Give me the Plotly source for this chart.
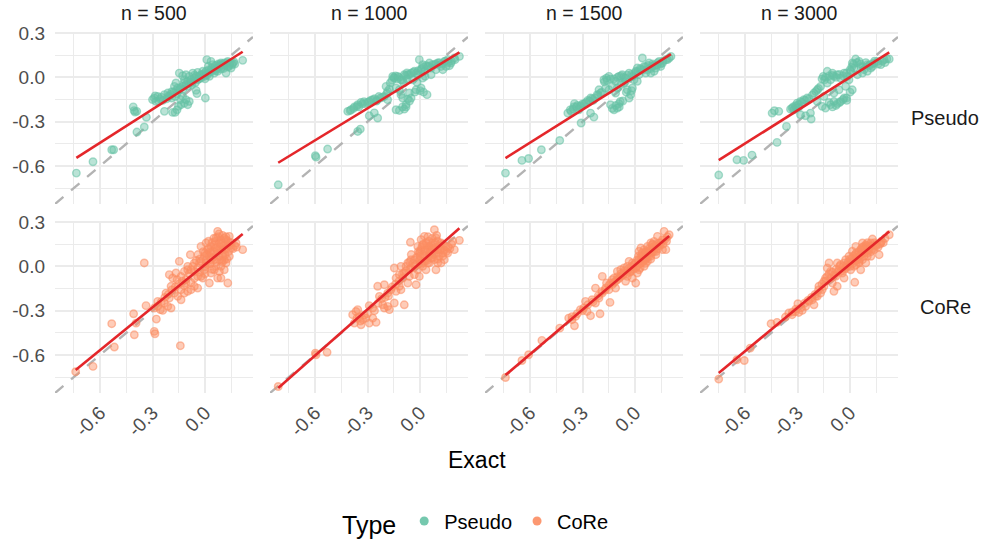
import numpy as np
import plotly.graph_objects as go

# ---- data: (Exact, estimate) pairs per method and sample size ----
sample_sizes = [500, 1000, 1500, 3000]
methods = ["Pseudo", "CoRe"]
x_tick_vals = [-0.6, -0.3, 0.0]
x_tick_text = ["-0.6", "-0.3", "0.0"]
y_tick_vals = [-0.6, -0.3, 0.0, 0.3]
y_tick_text = ["-0.6", "-0.3", "0.0", "0.3"]

pseudo_500 = [
    (-0.735, -0.648), (-0.64, -0.571), (-0.533, -0.49), (-0.522, -0.49), (-0.389, -0.37),
    (-0.347, -0.336), (-0.41, -0.20), (-0.405, -0.225), (-0.40, -0.235), (-0.39, -0.23),
    (-0.335, -0.27), (-0.29, -0.14), (-0.28, -0.163), (-0.27, -0.129), (-0.255, -0.147),
    (-0.242, -0.156), (-0.232, -0.117), (-0.213, -0.106), (-0.204, -0.129), (-0.19, -0.097),
    (-0.232, -0.23), (-0.185, -0.237), (-0.171, -0.237), (-0.152, -0.196), (-0.137, -0.185),
    (-0.118, -0.174), (-0.109, -0.151), (-0.09, -0.163), (-0.099, -0.185), (-0.128, -0.129),
    (-0.147, -0.084), (-0.156, -0.072), (-0.128, -0.061), (-0.109, -0.05), (-0.08, -0.038),
    (-0.051, -0.088), (-0.046, -0.11), (0.002, -0.14), (-0.147, 0.029), (-0.128, 0.011),
    (-0.109, 0.018), (-0.09, 0.007), (-0.07, 0.029), (-0.051, 0.007), (-0.042, 0.034),
    (-0.023, 0.018), (-0.013, 0.041), (-0.004, 0.007), (0.01, 0.12), (0.034, 0.108),
    (0.019, 0.075), (0.034, 0.052), (0.044, 0.086), (0.053, 0.029), (0.063, 0.063),
    (0.072, 0.041), (0.082, 0.086), (0.091, 0.056), (0.101, 0.074), (0.11, 0.097),
    (0.12, 0.029), (0.13, 0.07), (0.139, 0.086), (0.149, 0.063), (0.158, 0.097),
    (0.13, 0.108), (0.091, 0.097), (0.215, 0.115), (0.015, 0.029), (0.025, 0.007),
    (0.006, 0.041), (-0.023, -0.005), (-0.042, -0.016), (-0.061, -0.005), (-0.08, -0.016),
    (-0.099, -0.027), (-0.118, -0.016), (-0.166, -0.038), (-0.175, -0.061),
    (-0.30, -0.15), (-0.285, -0.125), (-0.265, -0.16), (-0.25, -0.135), (-0.22, -0.145),
    (-0.21, -0.125), (-0.195, -0.115), (-0.18, -0.10), (-0.165, -0.09), (-0.16, -0.11),
    (-0.14, -0.07), (-0.125, -0.08), (-0.12, -0.04), (-0.10, -0.06), (-0.085, -0.03),
    (-0.075, -0.05), (-0.065, -0.02), (-0.055, -0.035), (-0.035, -0.01), (-0.03, 0.01),
    (-0.015, 0.02), (0.0, 0.03), (0.012, 0.015), (0.02, 0.05), (0.03, 0.035),
    (0.04, 0.065), (0.05, 0.05), (0.06, 0.08), (0.07, 0.06), (0.08, 0.07),
    (0.09, 0.08), (0.10, 0.09), (0.105, 0.06), (0.115, 0.085), (0.125, 0.10),
    (0.135, 0.075), (0.145, 0.10), (0.155, 0.085), (0.165, 0.105), (0.17, 0.09),
    (0.06, 0.045), (0.075, 0.09), (-0.06, 0.015), (0.0, -0.01), (-0.19, -0.14),
    (-0.17, -0.13), (-0.14, -0.15), (-0.16, -0.22),
]

pseudo_1000 = [
    (-0.81, -0.727), (-0.598, -0.53), (-0.594, -0.54), (-0.528, -0.485), (-0.356, -0.366),
    (-0.341, -0.35), (-0.29, -0.26), (-0.242, -0.275), (-0.413, -0.23), (-0.394, -0.219),
    (-0.375, -0.20), (-0.356, -0.185), (-0.337, -0.169), (-0.314, -0.178), (-0.29, -0.163),
    (-0.27, -0.151), (-0.246, -0.156), (-0.227, -0.14), (-0.204, -0.129), (-0.185, -0.095),
    (-0.175, -0.079), (-0.156, 0.007), (-0.147, -0.005), (-0.128, 0.007), (-0.109, -0.016),
    (-0.093, -0.038), (-0.137, -0.072), (-0.118, -0.084), (-0.109, -0.117), (-0.099, -0.14),
    (-0.137, -0.219), (-0.118, -0.224), (-0.09, -0.215), (-0.08, -0.185), (-0.07, -0.147),
    (-0.051, -0.14), (-0.061, -0.106), (-0.023, -0.084), (0.006, -0.072), (0.04, -0.117),
    (-0.07, 0.018), (-0.051, 0.029), (-0.032, 0.041), (-0.013, 0.018), (0.006, 0.052),
    (-0.004, 0.12), (0.015, 0.086), (0.025, 0.041), (0.044, 0.074), (0.063, 0.063),
    (0.082, 0.086), (0.101, 0.097), (0.12, 0.074), (0.139, 0.108), (0.158, 0.12),
    (0.177, 0.097), (0.196, 0.131), (0.225, 0.142), (0.053, 0.097), (0.091, 0.052),
    (0.13, 0.052), (0.149, 0.074), (0.168, 0.079), (-0.09, 0.018), (-0.074, -0.011),
    (-0.042, -0.016), (-0.017, -0.034), (0.015, -0.005), (0.029, 0.007), (0.063, 0.018),
    (-0.17, -0.038), (-0.194, -0.061), (-0.185, -0.151), (-0.261, -0.24),
    (-0.40, -0.225), (-0.38, -0.21), (-0.36, -0.195), (-0.35, -0.20), (-0.33, -0.18),
    (-0.32, -0.165), (-0.30, -0.17), (-0.28, -0.155), (-0.26, -0.145), (-0.25, -0.16),
    (-0.235, -0.13), (-0.215, -0.135), (-0.19, -0.11), (-0.16, -0.02), (-0.15, 0.0),
    (-0.14, 0.01), (-0.13, -0.01), (-0.12, 0.0), (-0.10, -0.02), (-0.085, 0.01),
    (-0.075, 0.03), (-0.06, 0.02), (-0.04, 0.035), (-0.02, 0.03), (-0.01, 0.045),
    (0.01, 0.06), (0.02, 0.07), (0.035, 0.08), (0.05, 0.075), (0.07, 0.085),
    (0.09, 0.09), (0.11, 0.10), (0.125, 0.09), (0.145, 0.11), (0.16, 0.10),
    (0.18, 0.11), (0.20, 0.12), (-0.10, -0.20), (-0.08, -0.20), (-0.06, -0.16),
    (-0.03, -0.10), (0.0, -0.09), (0.02, -0.10),
]

pseudo_1500 = [
    (-0.74, -0.648), (-0.646, -0.562), (-0.608, -0.549), (-0.535, -0.49), (-0.43, -0.427),
    (-0.308, -0.309), (-0.384, -0.242), (-0.365, -0.23), (-0.354, -0.214), (-0.346, -0.178),
    (-0.335, -0.201), (-0.321, -0.219), (-0.308, -0.192), (-0.289, -0.178), (-0.27, -0.156),
    (-0.254, -0.14), (-0.239, -0.156), (-0.254, -0.242), (-0.235, -0.269), (-0.197, -0.106),
    (-0.178, -0.016), (-0.163, -0.005), (-0.149, 0.007), (-0.168, -0.072), (-0.149, -0.084),
    (-0.13, -0.061), (-0.14, -0.185), (-0.12, -0.219), (-0.101, -0.208), (-0.092, -0.178),
    (-0.084, -0.163), (-0.111, -0.106), (-0.101, -0.072), (-0.082, -0.05), (-0.063, -0.038),
    (-0.044, -0.084), (-0.034, -0.14), (-0.025, -0.117), (-0.015, -0.072), (-0.092, 0.007),
    (-0.073, 0.018), (-0.054, -0.005), (-0.034, 0.029), (-0.015, 0.007), (0.004, 0.041),
    (0.023, 0.018), (0.013, 0.063), (0.042, 0.131), (0.052, 0.074), (0.071, 0.052),
    (0.08, 0.097), (0.099, 0.074), (0.109, 0.041), (0.128, 0.086), (0.138, 0.108),
    (0.157, 0.097), (0.176, 0.12), (0.195, 0.131), (0.205, 0.142), (0.033, 0.052),
    (0.061, 0.029), (0.09, 0.029), (0.119, 0.063), (0.147, 0.074), (-0.006, -0.016),
    (0.013, -0.027), (-0.054, -0.027), (-0.111, -0.027), (-0.216, -0.117), (-0.206, -0.084),
    (-0.37, -0.22), (-0.35, -0.20), (-0.33, -0.19), (-0.315, -0.20), (-0.30, -0.18),
    (-0.28, -0.17), (-0.26, -0.16), (-0.245, -0.145), (-0.23, -0.14), (-0.21, -0.12),
    (-0.19, -0.10), (-0.175, -0.03), (-0.16, -0.02), (-0.14, -0.01), (-0.12, -0.01),
    (-0.10, 0.0), (-0.08, 0.01), (-0.065, 0.0), (-0.045, 0.015), (-0.02, 0.02),
    (0.0, 0.03), (0.015, 0.04), (0.03, 0.06), (0.045, 0.05), (0.06, 0.07),
    (0.075, 0.08), (0.09, 0.06), (0.10, 0.09), (0.115, 0.08), (0.13, 0.10),
    (0.145, 0.09), (0.16, 0.11), (0.185, 0.12), (-0.11, -0.19), (-0.09, -0.20),
    (-0.07, -0.16), (-0.05, -0.10), (-0.02, -0.09), (-0.13, -0.21),
]

pseudo_3000 = [
    (-0.75, -0.661), (-0.646, -0.558), (-0.608, -0.562), (-0.56, -0.526), (-0.417, -0.44),
    (-0.363, -0.332), (-0.445, -0.242), (-0.432, -0.226), (-0.407, -0.23), (-0.331, -0.208),
    (-0.312, -0.192), (-0.302, -0.174), (-0.283, -0.163), (-0.264, -0.151), (-0.245, -0.14),
    (-0.321, -0.219), (-0.293, -0.201), (-0.283, -0.253), (-0.254, -0.26), (-0.222, -0.282),
    (-0.226, -0.242), (-0.206, -0.106), (-0.187, -0.084), (-0.168, -0.061), (-0.153, 0.007),
    (-0.145, -0.016), (-0.13, -0.038), (-0.159, -0.196), (-0.14, -0.208), (-0.111, -0.185),
    (-0.092, -0.163), (-0.073, -0.178), (-0.054, -0.163), (-0.034, -0.14), (-0.019, -0.156),
    (-0.092, -0.106), (-0.063, -0.084), (-0.025, -0.061), (0.013, -0.084), (-0.111, -0.016),
    (-0.092, 0.007), (-0.073, 0.018), (-0.054, -0.005), (-0.034, 0.029), (-0.015, 0.007),
    (0.004, 0.041), (0.023, 0.063), (0.013, 0.097), (0.032, 0.124), (0.052, 0.108),
    (0.061, 0.074), (0.08, 0.052), (0.099, 0.086), (0.119, 0.063), (0.138, 0.097),
    (0.157, 0.108), (0.176, 0.086), (0.195, 0.12), (0.224, 0.124), (0.042, 0.018),
    (0.071, 0.029), (0.099, 0.041), (0.128, 0.074), (-0.13, 0.041), (-0.101, 0.029),
    (-0.006, -0.016), (-0.149, -0.129), (-0.187, -0.163),
    (-0.34, -0.215), (-0.325, -0.20), (-0.31, -0.205), (-0.295, -0.185), (-0.275, -0.17),
    (-0.255, -0.155), (-0.235, -0.145), (-0.215, -0.12), (-0.195, -0.095), (-0.18, -0.075),
    (-0.16, -0.01), (-0.14, 0.0), (-0.12, 0.01), (-0.10, 0.015), (-0.08, 0.0),
    (-0.06, 0.02), (-0.04, 0.01), (-0.02, 0.03), (0.0, 0.05), (0.01, 0.07),
    (0.02, 0.09), (0.04, 0.10), (0.06, 0.09), (0.075, 0.07), (0.09, 0.10),
    (0.11, 0.08), (0.125, 0.09), (0.14, 0.11), (0.16, 0.09), (0.185, 0.11),
    (0.20, 0.10), (0.21, 0.125), (-0.10, -0.20), (-0.08, -0.19), (-0.06, -0.17),
    (-0.04, -0.15), (-0.02, -0.14), (0.0, -0.10), (-0.12, -0.17),
]

core_500 = [
    (-0.739, -0.713), (-0.64, -0.677), (-0.533, -0.388), (-0.518, -0.546), (-0.408, -0.321),
    (-0.404, -0.463), (-0.394, -0.384), (-0.347, 0.023), (-0.337, -0.266), (-0.29, -0.44),
    (-0.286, -0.456), (-0.278, -0.357), (-0.141, -0.537), (-0.27, -0.237), (-0.255, -0.293),
    (-0.232, -0.248), (-0.213, -0.271), (-0.194, -0.282), (-0.204, -0.214), (-0.223, -0.181),
    (-0.194, -0.135), (-0.175, -0.181), (-0.156, -0.203), (-0.137, -0.226), (-0.137, -0.158),
    (-0.118, -0.181), (-0.099, -0.169), (-0.08, -0.158), (-0.061, -0.135), (-0.042, -0.147),
    (-0.204, -0.056), (-0.185, -0.079), (-0.166, -0.045), (-0.147, 0.034), (-0.137, -0.068),
    (-0.118, -0.034), (-0.099, 0.0), (-0.08, -0.023), (-0.084, 0.079), (-0.061, 0.023),
    (-0.042, -0.011), (-0.023, 0.034), (-0.023, -0.068), (-0.004, -0.023), (0.006, 0.045),
    (0.015, 0.011), (0.025, 0.068), (0.025, -0.113), (0.034, 0.135), (0.044, 0.102),
    (0.053, 0.045), (0.063, 0.0), (0.072, -0.079), (0.082, 0.158), (0.091, 0.113),
    (0.101, 0.068), (0.072, 0.237), (0.11, -0.023), (0.12, 0.023), (0.13, -0.113),
    (0.13, 0.147), (0.149, 0.124), (0.139, 0.068), (0.177, 0.158), (0.215, 0.113),
    (-0.023, 0.135), (0.006, 0.158), (0.015, 0.113), (0.034, 0.045), (0.053, 0.147),
    (0.063, 0.192), (0.082, 0.045), (0.091, 0.0), (0.101, 0.158), (0.11, 0.113),
    (0.12, 0.181), (0.11, 0.045), (-0.004, 0.068), (-0.032, 0.023), (-0.061, -0.034),
    (-0.013, -0.079), (0.034, -0.045), (0.053, -0.023), (0.082, -0.034), (0.091, -0.079),
    (0.006, 0.023), (0.034, 0.09), (0.063, 0.124), (0.139, 0.203), (-0.29, -0.282),
    (-0.242, -0.298), (-0.109, -0.113), (-0.042, -0.068), (-0.099, -0.023),
    (-0.03, 0.05), (-0.01, 0.10), (0.0, 0.0), (0.01, 0.08), (0.02, 0.12),
    (0.03, 0.02), (0.04, 0.16), (0.045, 0.06), (0.05, 0.10), (0.06, 0.17),
    (0.065, 0.03), (0.07, 0.11), (0.075, 0.20), (0.08, 0.07), (0.085, 0.13),
    (0.09, 0.18), (0.095, 0.04), (0.10, 0.10), (0.105, 0.14), (0.11, 0.19),
    (0.115, 0.08), (0.12, 0.12), (0.125, 0.05), (0.13, 0.17), (0.135, 0.10),
    (0.14, 0.14), (0.15, 0.16), (0.16, 0.12), (0.17, 0.14), (0.18, 0.13),
    (0.10, 0.21), (0.08, 0.22), (0.05, 0.19), (0.02, 0.17), (-0.04, 0.08),
    (-0.05, 0.04), (-0.07, 0.0), (-0.09, -0.05), (-0.11, -0.09), (-0.13, -0.10),
    (-0.15, -0.12), (-0.17, -0.14), (-0.19, -0.16), (-0.21, -0.19), (-0.23, -0.21),
    (-0.25, -0.24), (-0.27, -0.27), (-0.16, -0.09), (-0.12, -0.13), (-0.08, -0.11),
    (-0.06, -0.08), (-0.03, -0.04), (0.0, 0.09), (0.03, 0.10), (0.06, 0.13),
    (0.09, 0.15), (0.12, 0.20), (0.0, -0.05), (0.04, -0.02), (0.10, 0.03),
]

core_1000 = [
    (-0.81, -0.813), (-0.598, -0.587), (-0.594, -0.598), (-0.531, -0.582), (-0.385, -0.327),
    (-0.366, -0.305), (-0.356, -0.293), (-0.347, -0.343), (-0.328, -0.361), (-0.309, -0.35),
    (-0.29, -0.384), (-0.375, -0.384), (-0.337, -0.395), (-0.251, -0.379), (-0.27, -0.35),
    (-0.29, -0.266), (-0.27, -0.282), (-0.242, -0.135), (-0.232, -0.203), (-0.213, -0.26),
    (-0.204, -0.124), (-0.185, -0.181), (-0.166, -0.158), (-0.175, -0.293), (-0.147, -0.248),
    (-0.137, -0.169), (-0.118, -0.135), (-0.09, -0.26), (-0.109, -0.158), (-0.147, -0.011),
    (-0.137, -0.079), (-0.109, 0.0), (-0.09, -0.045), (-0.07, 0.023), (-0.061, -0.068),
    (-0.051, -0.011), (-0.055, 0.163), (-0.023, -0.124), (-0.032, 0.045), (-0.013, -0.023),
    (-0.004, 0.09), (0.006, 0.023), (0.015, 0.147), (0.025, 0.068), (0.034, -0.023),
    (0.044, 0.113), (0.053, 0.023), (0.063, 0.056), (0.072, 0.158), (0.082, 0.248),
    (0.091, 0.192), (0.101, 0.113), (0.11, 0.068), (0.12, 0.158), (0.13, 0.09),
    (0.149, 0.135), (0.187, 0.169), (0.196, 0.113), (0.225, 0.176), (0.025, 0.203),
    (0.006, 0.181), (-0.013, 0.135), (0.034, 0.158), (0.053, 0.135), (0.044, 0.023),
    (0.015, 0.0), (-0.004, -0.068), (-0.032, -0.056), (-0.051, 0.045), (-0.08, 0.0),
    (-0.099, -0.079), (-0.118, -0.056), (0.082, 0.045), (0.101, 0.023), (0.091, -0.023),
    (0.063, 0.113), (0.025, 0.102), (0.006, 0.113), (0.12, 0.023), (0.139, 0.045),
    (0.158, 0.09), (0.082, 0.113), (0.053, 0.09), (0.025, 0.034), (-0.004, 0.045),
    (-0.023, 0.011), (-0.07, -0.113), (-0.185, -0.271), (-0.204, -0.282),
    (-0.04, 0.02), (-0.02, 0.06), (0.0, 0.04), (0.0, 0.10), (0.01, 0.13),
    (0.02, 0.08), (0.03, 0.11), (0.035, 0.05), (0.04, 0.14), (0.05, 0.17),
    (0.055, 0.07), (0.06, 0.10), (0.065, 0.14), (0.07, 0.19), (0.075, 0.12),
    (0.08, 0.08), (0.085, 0.16), (0.09, 0.13), (0.095, 0.21), (0.10, 0.17),
    (0.105, 0.09), (0.11, 0.14), (0.115, 0.11), (0.12, 0.12), (0.13, 0.15),
    (0.14, 0.11), (0.15, 0.10), (0.16, 0.13), (0.17, 0.12), (0.18, 0.15),
    (0.045, 0.20), (0.02, 0.15), (-0.01, 0.10), (-0.06, 0.03), (-0.08, -0.03),
    (-0.10, -0.05), (-0.12, -0.10), (-0.14, -0.12), (-0.16, -0.14), (-0.18, -0.20),
    (-0.20, -0.21), (-0.22, -0.22), (-0.24, -0.25), (-0.26, -0.30), (-0.30, -0.32),
    (-0.32, -0.33), (-0.34, -0.37), (-0.36, -0.35), (-0.06, -0.02), (-0.03, 0.0),
    (0.01, 0.02), (0.04, 0.04), (0.07, 0.06), (0.10, 0.05), (0.13, 0.07),
    (-0.05, 0.08), (0.0, 0.07),
]

core_1500 = [
    (-0.74, -0.752), (-0.646, -0.637), (-0.608, -0.598), (-0.532, -0.501), (-0.43, -0.418),
    (-0.379, -0.35), (-0.36, -0.361), (-0.346, -0.402), (-0.34, -0.339), (-0.312, -0.293),
    (-0.293, -0.282), (-0.274, -0.305), (-0.254, -0.334), (-0.283, -0.237), (-0.245, -0.226),
    (-0.226, -0.248), (-0.206, -0.214), (-0.20, -0.321), (-0.187, -0.181), (-0.168, -0.147),
    (-0.143, -0.244), (-0.226, -0.147), (-0.187, -0.068), (-0.163, -0.113), (-0.149, -0.158),
    (-0.13, -0.124), (-0.111, -0.147), (-0.101, -0.09), (-0.082, -0.023), (-0.082, -0.068),
    (-0.063, -0.045), (-0.054, -0.101), (-0.044, 0.0), (-0.025, -0.034), (-0.015, 0.023),
    (0.004, -0.113), (0.004, -0.011), (0.013, 0.045), (0.023, 0.102), (0.033, 0.023),
    (0.042, 0.068), (0.052, 0.113), (0.061, 0.045), (0.071, 0.135), (0.08, 0.09),
    (0.09, 0.158), (0.099, 0.113), (0.109, 0.169), (0.119, 0.079), (0.128, 0.135),
    (0.138, 0.158), (0.157, 0.113), (0.166, 0.237), (0.176, 0.113), (0.195, 0.214),
    (-0.063, -0.011), (-0.034, 0.034), (-0.025, -0.023), (-0.006, 0.011), (0.023, -0.023),
    (0.052, 0.0), (0.071, 0.034), (0.09, 0.068), (0.109, 0.102), (0.033, 0.068),
    (0.052, 0.045), (0.071, 0.09), (0.013, -0.045), (-0.044, -0.068), (-0.015, -0.079),
    (-0.101, -0.034), (-0.12, -0.079), (-0.14, -0.113), (0.128, 0.203), (0.099, 0.147),
    (0.157, 0.181), (0.033, 0.124), (0.061, 0.09),
    (-0.02, 0.0), (-0.01, -0.02), (0.0, 0.02), (0.01, 0.0), (0.02, 0.04),
    (0.03, 0.02), (0.04, 0.05), (0.045, 0.03), (0.05, 0.07), (0.055, 0.05),
    (0.06, 0.06), (0.065, 0.08), (0.07, 0.06), (0.075, 0.10), (0.08, 0.07),
    (0.085, 0.11), (0.09, 0.09), (0.095, 0.12), (0.10, 0.10), (0.105, 0.13),
    (0.11, 0.12), (0.115, 0.14), (0.12, 0.10), (0.125, 0.15), (0.13, 0.12),
    (0.14, 0.14), (0.15, 0.16), (0.16, 0.15), (0.17, 0.18), (0.18, 0.17),
    (0.185, 0.20), (-0.03, -0.04), (-0.04, -0.02), (-0.05, -0.05), (-0.06, -0.03),
    (-0.07, -0.06), (-0.08, -0.05), (-0.09, -0.08), (-0.10, -0.07), (-0.11, -0.10),
    (-0.12, -0.11), (-0.13, -0.09), (-0.15, -0.13), (-0.17, -0.16), (-0.19, -0.17),
    (-0.21, -0.20), (-0.24, -0.24), (-0.27, -0.26), (-0.30, -0.30), (-0.33, -0.32),
    (-0.36, -0.34), (0.02, 0.07), (0.04, 0.09), (0.06, 0.10), (0.08, 0.12),
    (0.10, 0.15), (0.03, -0.01), (0.06, 0.02), (0.09, 0.05),
]

core_3000 = [
    (-0.75, -0.763), (-0.646, -0.632), (-0.604, -0.637), (-0.57, -0.553), (-0.451, -0.388),
    (-0.417, -0.379), (-0.369, -0.343), (-0.35, -0.316), (-0.331, -0.327), (-0.312, -0.305),
    (-0.293, -0.312), (-0.273, -0.298), (-0.298, -0.253), (-0.254, -0.271), (-0.235, -0.237),
    (-0.206, -0.26), (-0.187, -0.203), (-0.168, -0.181), (-0.159, -0.158), (-0.149, -0.135),
    (-0.14, -0.079), (-0.13, -0.011), (-0.111, -0.034), (-0.092, -0.169), (-0.082, -0.068),
    (-0.101, -0.113), (-0.073, 0.023), (-0.063, -0.023), (-0.044, -0.045), (-0.034, 0.023),
    (-0.025, 0.045), (-0.015, 0.0), (-0.006, 0.068), (0.004, 0.023), (0.013, 0.102),
    (0.023, 0.045), (0.027, -0.108), (0.033, 0.135), (0.042, 0.079), (0.052, 0.023),
    (0.061, 0.113), (0.071, 0.158), (0.08, 0.09), (0.09, 0.147), (0.099, 0.068),
    (0.109, 0.124), (0.119, 0.158), (0.128, 0.185), (0.138, 0.113), (0.147, 0.147),
    (0.166, 0.079), (0.176, 0.158), (0.224, 0.214), (0.061, -0.023), (0.033, 0.011),
    (0.004, -0.023), (-0.025, -0.011), (-0.054, 0.011), (-0.12, 0.023), (-0.13, -0.068),
    (-0.149, -0.101), (0.042, 0.045), (0.071, 0.045), (0.09, 0.023), (0.099, 0.113),
    (0.119, 0.068), (0.052, 0.068), (0.08, 0.135), (0.023, 0.0), (-0.034, -0.079),
    (-0.073, -0.135), (-0.178, -0.135), (-0.197, -0.203), (-0.216, -0.226),
    (-0.02, 0.01), (-0.01, 0.03), (0.0, 0.0), (0.01, 0.05), (0.015, 0.02),
    (0.02, 0.07), (0.03, 0.04), (0.035, 0.09), (0.04, 0.06), (0.05, 0.10),
    (0.055, 0.05), (0.06, 0.08), (0.065, 0.12), (0.07, 0.09), (0.075, 0.11),
    (0.08, 0.07), (0.085, 0.12), (0.09, 0.10), (0.095, 0.14), (0.10, 0.09),
    (0.105, 0.13), (0.11, 0.11), (0.12, 0.14), (0.13, 0.12), (0.14, 0.16),
    (0.15, 0.14), (0.16, 0.13), (0.17, 0.15), (0.18, 0.17), (0.19, 0.16),
    (0.20, 0.19), (-0.03, -0.02), (-0.04, 0.0), (-0.05, -0.03), (-0.06, 0.0),
    (-0.07, -0.04), (-0.08, -0.02), (-0.09, -0.06), (-0.10, -0.04), (-0.11, -0.08),
    (-0.12, -0.05), (-0.14, -0.10), (-0.16, -0.12), (-0.18, -0.16), (-0.20, -0.19),
    (-0.22, -0.21), (-0.24, -0.23), (-0.26, -0.25), (-0.28, -0.28), (-0.31, -0.29),
    (-0.33, -0.31), (0.0, 0.05), (0.03, 0.08), (0.05, 0.03), (0.07, 0.13),
    (0.10, 0.16), (0.12, 0.10),
]

panel_data = {
    ("Pseudo", 500): pseudo_500, ("Pseudo", 1000): pseudo_1000,
    ("Pseudo", 1500): pseudo_1500, ("Pseudo", 3000): pseudo_3000,
    ("CoRe", 500): core_500, ("CoRe", 1000): core_1000,
    ("CoRe", 1500): core_1500, ("CoRe", 3000): core_3000,
}

# ---- styling ----
W, H = 985, 542
col_px = [(55, 253), (270, 468), (485, 683), (700, 898)]
row_px = [(32, 204), (221, 393)]
x_range = [-0.857, 0.274]
y_range = [-0.857, 0.307]
fill = {"Pseudo": (102, 194, 165), "CoRe": (252, 141, 98)}
fit_color = "#E4262A"
ref_color = "#B3B3B3"
grid_color = "#EBEBEB"
font_family = "Liberation Sans, Arial, sans-serif"


def rgba(c, a):
    return f"rgba({c[0]},{c[1]},{c[2]},{a})"


fig = go.Figure()
layout = {}

for r, method in enumerate(methods):
    for c, n in enumerate(sample_sizes):
        k = r * 4 + c + 1
        sfx = "" if k == 1 else str(k)
        xa, ya = f"x{sfx}", f"y{sfx}"
        pts = np.array(panel_data[(method, n)])
        px_, py_ = pts[:, 0], pts[:, 1]

        # identity reference line
        fig.add_trace(go.Scatter(
            x=x_range, y=x_range, mode="lines", xaxis=xa, yaxis=ya,
            line=dict(color=ref_color, width=2.4, dash="11px,10px"),
            showlegend=False, hoverinfo="skip"))
        # points
        fig.add_trace(go.Scatter(
            x=px_, y=py_, mode="markers", xaxis=xa, yaxis=ya,
            marker=dict(size=7.5, color=rgba(fill[method], 0.45),
                        line=dict(color=rgba(fill[method], 0.55), width=1.4)),
            showlegend=False))
        # least-squares fit
        slope, intercept = np.polyfit(px_, py_, 1)
        fx = np.array([px_.min(), px_.max()])
        fig.add_trace(go.Scatter(
            x=fx, y=intercept + slope * fx, mode="lines", xaxis=xa, yaxis=ya,
            line=dict(color=fit_color, width=2.6),
            showlegend=False, hoverinfo="skip"))

        x0, x1 = col_px[c]
        y0, y1 = row_px[r]
        common = dict(showline=False, zeroline=False, ticks="",
                      showgrid=True, gridcolor=grid_color, gridwidth=2,
                      tickfont=dict(family=font_family, size=19, color="#4D4D4D"))
        minor = dict(tickvals=[-0.75, -0.45, -0.15, 0.15], showgrid=True,
                     gridcolor=grid_color, gridwidth=1, ticks="")
        layout[f"xaxis{sfx}"] = dict(
            domain=[x0 / W, x1 / W], range=x_range, anchor=ya,
            tickvals=x_tick_vals, ticktext=x_tick_text, tickangle=-45,
            showticklabels=(r == 1), ticklabelstandoff=4, minor=minor, **common)
        layout[f"yaxis{sfx}"] = dict(
            domain=[1 - y1 / H, 1 - y0 / H], range=y_range, anchor=xa,
            tickvals=y_tick_vals, ticktext=y_tick_text,
            showticklabels=(c == 0), ticklabelstandoff=9, minor=minor, **common)

# legend entries
for method in methods:
    fig.add_trace(go.Scatter(
        x=[None], y=[None], mode="markers", name=method,
        marker=dict(size=9, color=rgba(fill[method], 0.9), line=dict(width=0))))

annotations = []
for c, n in enumerate(sample_sizes):
    x0, x1 = col_px[c]
    annotations.append(dict(
        text=f"n = {n}", x=(x0 + x1) / 2 / W, y=1 - 13 / H, xref="paper", yref="paper",
        showarrow=False, xanchor="center", yanchor="middle",
        font=dict(family=font_family, size=19.5, color="#1A1A1A")))
for r, method in enumerate(methods):
    y0, y1 = row_px[r]
    annotations.append(dict(
        text=method, x=945 / W, y=1 - (y0 + y1) / 2 / H, xref="paper", yref="paper",
        showarrow=False, xanchor="center", yanchor="middle",
        font=dict(family=font_family, size=20, color="#1A1A1A")))
annotations.append(dict(
    text="Exact", x=476.5 / W, y=1 - 460 / H, xref="paper", yref="paper",
    showarrow=False, xanchor="center", yanchor="middle",
    font=dict(family=font_family, size=23, color="#000000")))

fig.update_layout(
    width=W, height=H, margin=dict(l=0, r=0, t=0, b=0, autoexpand=False),
    paper_bgcolor="white", plot_bgcolor="white",
    annotations=annotations,
    legend=dict(orientation="h", x=477 / W, xanchor="center", y=1 - 523 / H, yanchor="middle",
                title=dict(text="Type", side="left", font=dict(family=font_family, size=25, color="#000000")),
                font=dict(family=font_family, size=20, color="#000000"),
                itemwidth=30, tracegroupgap=0),
    **layout)

fig.write_html("out.html")
